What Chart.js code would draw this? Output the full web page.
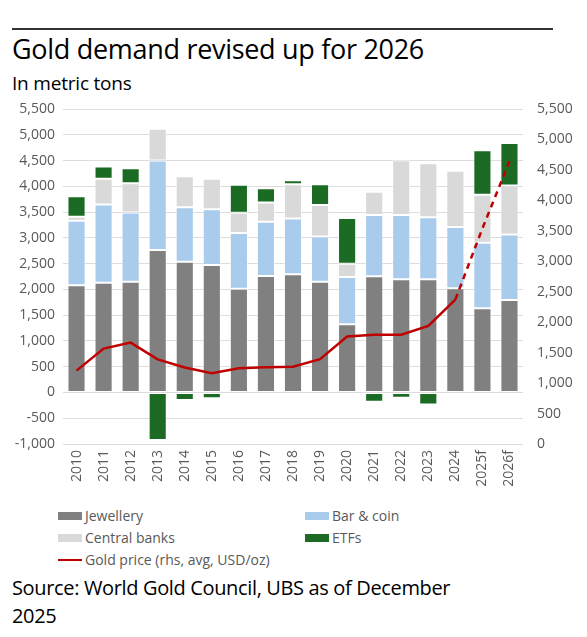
<!DOCTYPE html>
<html>
<head>
<meta charset="utf-8">
<script src="https://cdn.jsdelivr.net/npm/chart.js@4.4.1/dist/chart.umd.min.js"></script>
<style>
  html, body { margin: 0; padding: 0; background: #fff; }
  body { width: 587px; height: 637px; position: relative; overflow: hidden; font-family: "Open Sans", "Noto Sans", sans-serif; }
  #rule { position: absolute; left: 12px; top: 28px; width: 541px; border-top: 2px solid #333; }
  #title { position: absolute; left: 12px; top: 30px; font-size: 27px; color: #000; white-space: nowrap; letter-spacing: -0.3px; }
  #subtitle { position: absolute; left: 12px; top: 70px; font-size: 19px; color: #000; white-space: nowrap; letter-spacing: -0.2px; }
  #wrap { position: absolute; left: 0; top: 95px; width: 587px; height: 405px; }
  #legend { position: absolute; left: 58px; top: 505px; width: 500px; font-size: 14px; color: #595959; }
  .li { position: absolute; height: 22px; line-height: 22px; white-space: nowrap; }
  .sw { display: inline-block; width: 24px; height: 8px; vertical-align: middle; margin-right: 3px; position: relative; top: -1px; }
  .ln { display: inline-block; width: 24px; height: 2px; vertical-align: middle; margin-right: 3px; position: relative; top: -1px; }
  #source { position: absolute; left: 12px; top: 574px; font-size: 20px; line-height: 28px; color: #000; width: 560px; letter-spacing: -0.35px; }
</style>
</head>
<body>
<div id="rule"></div>
<div id="title">Gold demand revised up for 2026</div>
<div id="subtitle">In metric tons</div>
<div id="wrap"><canvas id="c"></canvas></div>
<div id="legend"></div>
<div id="source">Source: World Gold Council, UBS as of December<br>2025</div>
<script>
const categories = ["2010","2011","2012","2013","2014","2015","2016","2017","2018","2019","2020","2021","2022","2023","2024","2025f","2026f"];
const jewellery   = [2079, 2130, 2150, 2763, 2537, 2473, 2014, 2260, 2292, 2150, 1323, 2253, 2195, 2195, 2021, 1633, 1795];
const barCoin     = [1252, 1517, 1343, 1737, 1059, 1084, 1078, 1052, 1084,  878,  917, 1188, 1246, 1207, 1188, 1272, 1271];
const centralBanks= [  78,  498,  568,  619,  600,  588,  394,  374,  665,  607,  258,  452, 1065, 1046, 1091,  930,  949];
const etfs        = [ 400,  238,  290, -923, -148, -110,  542,  278,   78,  406,  885, -181, -103, -232,    0,  865,  827];
const goldPrice   = [1205, 1567, 1665, 1390, 1255, 1160, 1245, 1260, 1268, 1392, 1765, 1795, 1795, 1940, 2370, 3540, 4640];
const forecastStart = 14; // segments after 2024 are dashed

const colors = { jew: "#808080", bar: "#a9cbec", cb: "#d9d9d9", etf: "#1c6b24", price: "#c00000" };
const tickColor = "#595959";
const tickFont = { family: "Open Sans", size: 14 };

const barDs = (label, data, color) => ({
  type: "bar", label, data, backgroundColor: color,
  borderColor: "rgba(255,255,255,0.55)", borderWidth: 1, borderSkipped: false,
  stack: "s", yAxisID: "y", order: 2,
  barPercentage: 0.67, categoryPercentage: 1.0
});

const chart = new Chart(document.getElementById("c"), {
  data: {
    labels: categories,
    datasets: [
      barDs("Jewellery", jewellery, colors.jew),
      barDs("Bar & coin", barCoin, colors.bar),
      barDs("Central banks", centralBanks, colors.cb),
      barDs("ETFs", etfs, colors.etf),
      {
        type: "line", label: "Gold price (rhs, avg, USD/oz)", data: goldPrice,
        borderColor: colors.price, borderWidth: 2.5, pointRadius: 0, tension: 0,
        yAxisID: "y1", order: 0,
        segment: { borderDash: ctx => ctx.p0DataIndex >= forecastStart ? [6, 5] : undefined }
      }
    ]
  },
  options: {
    responsive: true, maintainAspectRatio: false, animation: false,
    layout: { padding: { top: 14, bottom: 0, left: 0, right: 0 } },
    plugins: { legend: { display: false }, tooltip: { enabled: false } },
    scales: {
      x: {
        stacked: true,
        grid: { display: false, drawTicks: false },
        border: { display: false },
        ticks: { color: tickColor, font: tickFont, maxRotation: 90, minRotation: 90, padding: 6, autoSkip: false },
        afterFit: s => { s.height = 56; }
      },
      y: {
        stacked: true, min: -1000, max: 5500,
        position: "left",
        grid: { color: "#dcdcdc", lineWidth: 1, drawTicks: false },
        border: { display: false },
        ticks: { stepSize: 500, color: tickColor, font: tickFont, padding: 8,
                 callback: v => v.toLocaleString("en-US") },
        afterFit: s => { s.width = 63; s.paddingTop = 0; s.paddingBottom = 0; }
      },
      y1: {
        min: 0, max: 5500, position: "right",
        grid: { display: false, drawTicks: false },
        border: { display: false },
        ticks: { stepSize: 500, color: tickColor, font: tickFont, padding: 14,
                 callback: v => v.toLocaleString("en-US") },
        afterFit: s => { s.width = 64; s.paddingTop = 0; s.paddingBottom = 0; }
      }
    }
  }
});

// HTML legend built from chart datasets (2 columns)
const legend = document.getElementById("legend");
const pos = [[0,0],[247,0],[0,22],[247,22],[0,44]];
chart.data.datasets.forEach((ds, i) => {
  const d = document.createElement("div");
  d.className = "li";
  d.style.left = pos[i][0] + "px";
  d.style.top = pos[i][1] + "px";
  const sw = document.createElement("span");
  if (ds.type === "line") { sw.className = "ln"; sw.style.background = ds.borderColor; }
  else { sw.className = "sw"; sw.style.background = ds.backgroundColor; }
  d.appendChild(sw);
  d.appendChild(document.createTextNode(ds.label));
  legend.appendChild(d);
});
</script>
</body>
</html>
